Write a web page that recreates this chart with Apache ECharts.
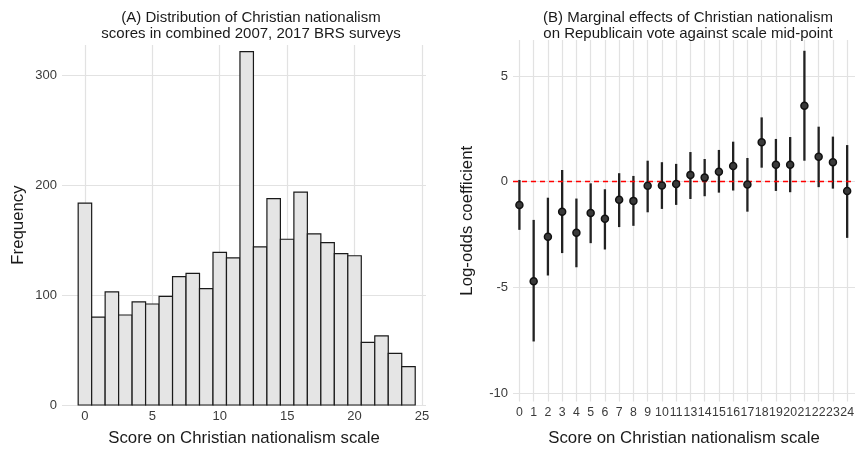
<!DOCTYPE html>
<html>
<head>
<meta charset="utf-8">
<script src="https://cdn.jsdelivr.net/npm/echarts@6/dist/echarts.min.js"></script>
<style>
  html, body { margin: 0; padding: 0; background: #fff; }
  #chart { width: 858px; height: 452px; }
</style>
</head>
<body>
<div id="chart"></div>
<script>
// (A) 直方图数据
var scores = [0,1,2,3,4,5,6,7,8,9,10,11,12,13,14,15,16,17,18,19,20,21,22,23,24]
var freq = [184,80,103,82,94,92,99,117,120,106,139,134,322,144,188,151,194,156,148,138,136,57,63,47,35]
var histTicks = [0,5,10,15,20,25]
var freqTicks = [0,100,200,300]

// (B) 边际效应 (12 为参照, 不显示)
var effCats = ['0','1','2','3','4','5','6','7','8','9','10','11','13','14','15','16','17','18','19','20','21','22','23','24']
var effEst = [-1.10,-4.71,-2.61,-1.42,-2.42,-1.48,-1.76,-0.86,-0.91,-0.20,-0.18,-0.11,0.32,0.19,0.47,0.74,-0.14,1.86,0.80,0.80,3.59,1.18,0.92,-0.44]
var effLow = [-2.28,-7.56,-4.44,-3.38,-4.05,-2.91,-3.21,-2.15,-2.09,-1.45,-1.29,-1.10,-0.82,-0.69,-0.52,-0.42,-1.42,0.66,-0.44,-0.50,0.99,-0.26,-0.33,-2.66]
var effHigh = [0.08,-1.81,-0.76,0.55,-0.80,-0.08,-0.36,0.40,0.27,0.99,0.92,0.84,1.40,1.07,1.50,1.89,1.12,3.04,2.02,2.11,6.19,2.60,2.13,1.73]
var effTicks = [-10,-5,0,5]

var catIdx = effCats.map(function (c, i) { return i })
var gridColor = '#e2e2e2'
var labelStyle = { color: '#3a3a3a', fontSize: 13, fontFamily: 'Liberation Sans' }
var nameStyle = { color: '#1a1a1a', fontSize: 16.8, fontFamily: 'Liberation Sans' }
var zeroLine = { color: '#ff0000', type: [5, 4], width: 1.3 }

var chart = echarts.init(document.getElementById('chart'))

var option = {
  animation: false,
  backgroundColor: '#fff',
  title: [
    { text: '(A) Distribution of Christian nationalism\nscores in combined 2007, 2017 BRS surveys',
      left: 246, top: 5, textAlign: 'center',
      textStyle: { fontSize: 15, fontWeight: 'normal', color: '#1a1a1a', fontFamily: 'Liberation Sans', lineHeight: 16 } },
    { text: '(B) Marginal effects of Christian nationalism\non Republicain vote against scale mid-point',
      left: 683, top: 5, textAlign: 'center',
      textStyle: { fontSize: 15, fontWeight: 'normal', color: '#1a1a1a', fontFamily: 'Liberation Sans', lineHeight: 16 } }
  ],
  grid: [
    { left: 62, top: 45, width: 364, height: 361 },
    { left: 513, top: 40, width: 342, height: 362 }
  ],
  xAxis: [
    { type: 'value', gridIndex: 0, min: -1.7, max: 25.3,
      name: 'Score on Christian nationalism scale', nameLocation: 'middle', nameGap: 25, nameTextStyle: nameStyle,
      axisLine: { show: false },
      axisTick: { show: false, customValues: histTicks },
      axisLabel: Object.assign({ customValues: histTicks, margin: 5 }, labelStyle),
      splitLine: { show: true, lineStyle: { color: gridColor, width: 1.2 } } },
    { type: 'value', gridIndex: 1, min: -0.45, max: 23.55,
      name: 'Score on Christian nationalism scale', nameLocation: 'middle', nameGap: 28.5, nameTextStyle: nameStyle,
      axisLine: { show: false },
      axisTick: { show: false, customValues: catIdx },
      axisLabel: Object.assign({}, labelStyle, { customValues: catIdx, margin: 5, fontSize: 12.3,
        showMinLabel: true, showMaxLabel: true,
        formatter: function (v) { return effCats[Math.round(v)] } }),
      splitLine: { show: true, lineStyle: { color: gridColor, width: 1.2 } } }
  ],
  yAxis: [
    { type: 'value', gridIndex: 0, min: 0, max: 328,
      name: 'Frequency', nameLocation: 'middle', nameGap: 35, nameTextStyle: nameStyle,
      axisLine: { show: false },
      axisTick: { show: false, customValues: freqTicks },
      axisLabel: Object.assign({ customValues: freqTicks, margin: 5 }, labelStyle),
      splitLine: { show: true, lineStyle: { color: gridColor, width: 1.2 } } },
    { type: 'value', gridIndex: 1, min: -10.4, max: 6.7,
      name: 'Log-odds coefficient', nameLocation: 'middle', nameGap: 37, nameTextStyle: nameStyle,
      axisLine: { show: false },
      axisTick: { show: false, customValues: effTicks },
      axisLabel: Object.assign({ customValues: effTicks, margin: 5 }, labelStyle),
      splitLine: { show: true, lineStyle: { color: gridColor, width: 1.2 } } }
  ],
  series: [
    // 直方图
    { type: 'custom', xAxisIndex: 0, yAxisIndex: 0,
      data: scores.map(function (s, i) { return [s, freq[i]] }),
      renderItem: function (params, api) {
        var x = api.value(0), y = api.value(1)
        var p0 = api.coord([x - 0.5, y])
        var p1 = api.coord([x + 0.5, 0])
        return { type: 'rect',
          shape: { x: p0[0], y: p0[1], width: p1[0] - p0[0], height: p1[1] - p0[1] },
          style: { fill: '#e5e5e5', stroke: '#1a1a1a', lineWidth: 1.2 } }
      } },
    // 0 参考线 (红色虚线)
    { type: 'line', xAxisIndex: 1, yAxisIndex: 1, data: [], color: '#ff0000',
      markLine: { silent: true, symbol: 'none', label: { show: false },
        lineStyle: zeroLine, data: [{ yAxis: 0 }] } },
    // 误差线
    { type: 'custom', xAxisIndex: 1, yAxisIndex: 1, z: 3,
      data: catIdx.map(function (i) { return [i, effLow[i], effHigh[i]] }),
      renderItem: function (params, api) {
        var a = api.coord([api.value(0), api.value(1)])
        var b = api.coord([api.value(0), api.value(2)])
        return { type: 'line', shape: { x1: a[0], y1: a[1], x2: b[0], y2: b[1] },
          style: { stroke: '#222', lineWidth: 2.3 } }
      } },
    // 点估计
    { type: 'scatter', xAxisIndex: 1, yAxisIndex: 1, z: 5,
      data: catIdx.map(function (i) { return [i, effEst[i]] }),
      symbol: 'circle', symbolSize: 7,
      itemStyle: { color: '#3a3a3a', borderColor: '#111', borderWidth: 1.5, opacity: 1 } }
  ]
}

chart.setOption(option)
</script>
</body>
</html>
